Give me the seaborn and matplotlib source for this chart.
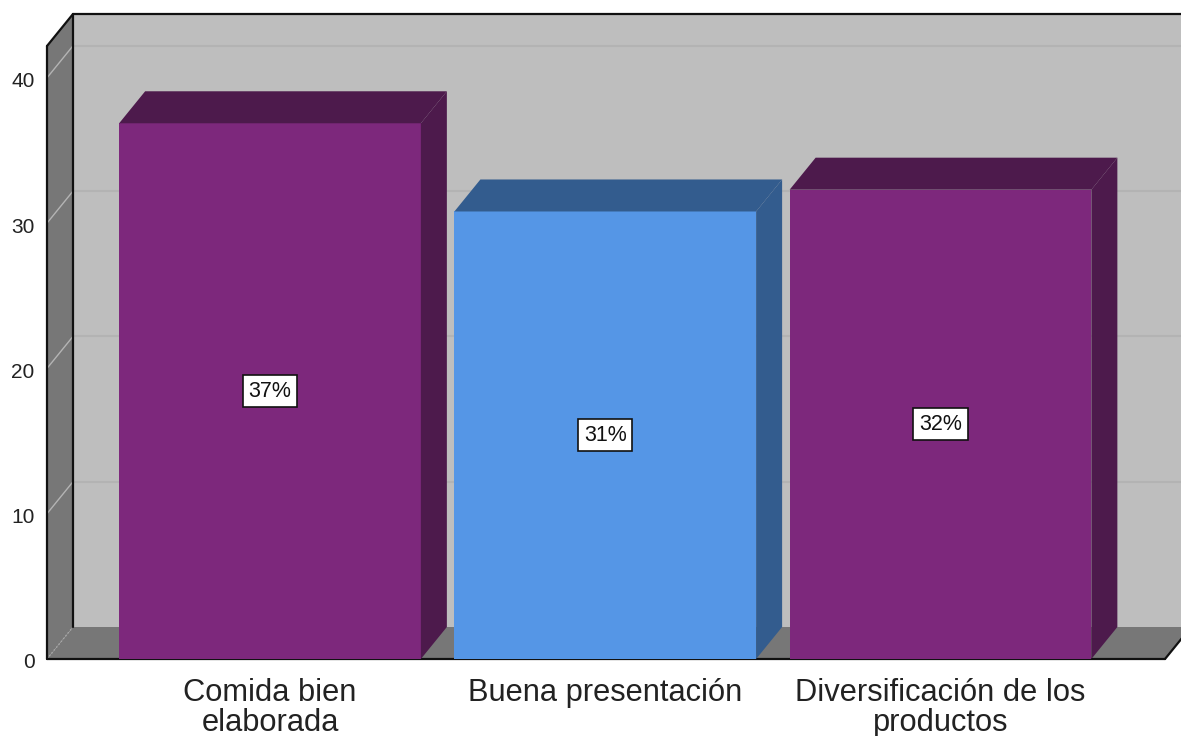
import matplotlib
matplotlib.use("Agg")
import matplotlib.pyplot as plt
import seaborn as sns
from matplotlib.patches import Polygon
from matplotlib.transforms import ScaledTranslation

categories = ["Comida bien\nelaborada", "Buena presentación", "Diversificación de los\nproductos"]
values = [36.87, 30.8, 32.3]
pct_labels = ["37%", "31%", "32%"]
bar_colors = ["#7D287C", "#5596E6", "#7D287C"]
side_colors = ["#4D1A4C", "#335C8E", "#4D1A4C"]
y_ticks = [0, 10, 20, 30, 40]

sns.set_style("white")
plt.rcParams["font.family"] = ["Liberation Sans", "DejaVu Sans"]

W, H = 1181, 736
fig = plt.figure(figsize=(W / 100, H / 100), dpi=100)
# front plane of the box, in pixels
ax = fig.add_axes([47 / W, (H - 659) / H, (1165 - 47) / W, (659 - 46) / H])

sns.barplot(x=categories, y=values, hue=categories, palette=bar_colors, saturation=1,
            width=0.9, legend=False, linewidth=0, ax=ax)

xl, xr = (47 - 270) / 335.25, (1165 - 270) / 335.25
ymax = (659 - 46) / 14.53
ax.set_xlim(xl, xr)
ax.set_ylim(0, ymax)

# depth of the fake 3d box in data units (26 px right, 32 px up)
dx = 26 / 335.25
dy = 32 / 14.53


def face(points, color, z):
    ax.add_patch(Polygon(points, closed=True, facecolor=color, edgecolor="none", zorder=z, clip_on=False))


# walls
face([(xl + dx, dy), (xr + dx, dy), (xr + dx, ymax + dy), (xl + dx, ymax + dy)], "#BEBEBE", 0.2)
face([(xl, 0), (xl + dx, dy), (xl + dx, ymax + dy), (xl, ymax)], "#777777", 0.3)
face([(xl, 0), (xr, 0), (xr + dx, dy), (xl + dx, dy)], "#777777", 0.3)

# gridlines on back and left walls
for t in y_ticks[1:]:
    ax.plot([xl + dx, xr + dx], [t + dy, t + dy], color="#B3B3B3", lw=1.5, zorder=0.25, clip_on=False)
    ax.plot([xl, xl + dx], [t, t + dy], color="#B4B4B4", lw=1, zorder=0.35, clip_on=False)
ax.plot([xl, xl + dx], [0, dy], color="#A8A8A8", lw=1, ls=":", zorder=0.35, clip_on=False)

# box outline
outline = [
    ([xl, xl], [0, ymax]),
    ([xl, xl + dx], [ymax, ymax + dy]),
    ([xl + dx, xr + dx], [ymax + dy, ymax + dy]),
    ([xl + dx, xl + dx], [dy, ymax + dy]),
    ([xl, xr], [0, 0]),
    ([xr, xr + dx], [0, dy]),
]
for xs, ys in outline:
    ax.plot(xs, ys, color="#111111", lw=1.6, zorder=0.6, clip_on=False, solid_capstyle="round")

# top and side faces of the bars
for container, side in zip(ax.containers, side_colors):
    for bar in container:
        x0 = bar.get_x()
        x1 = x0 + bar.get_width()
        h = bar.get_height()
        face([(x0, h), (x1, h), (x1 + dx, h + dy), (x0 + dx, h + dy)], side, 1.1)
        face([(x1, 0), (x1 + dx, dy), (x1 + dx, h + dy), (x1, h)], side, 1.1)

for container, label in zip(ax.containers, pct_labels):
    ax.bar_label(container, labels=[label], label_type="center", fontsize=15.5, color="#111111", zorder=5,
                 bbox=dict(boxstyle="square,pad=0.26", facecolor="white", edgecolor="#111111", linewidth=1.2))

ax.set_yticks(y_ticks)
ax.set_yticklabels([str(t) for t in y_ticks], fontsize=15, color="#222222", va="center")
ax.tick_params(axis="y", length=0, pad=9)
ax.tick_params(axis="x", length=0, pad=13.5, labelsize=22.2, labelcolor="#222222")
# labels sit a little below the tick height (has to come after tick_params, pad resets it)
for lab in ax.get_yticklabels():
    lab.set_transform(lab.get_transform() + ScaledTranslation(0, -4 / 100, fig.dpi_scale_trans))
ax.set_xticks(range(3))
ax.set_xticklabels(categories, linespacing=1.0)
ax.set_xlabel("")
ax.set_ylabel("")
sns.despine(ax=ax, left=True, bottom=True)

fig.savefig("out.png", dpi=100)
